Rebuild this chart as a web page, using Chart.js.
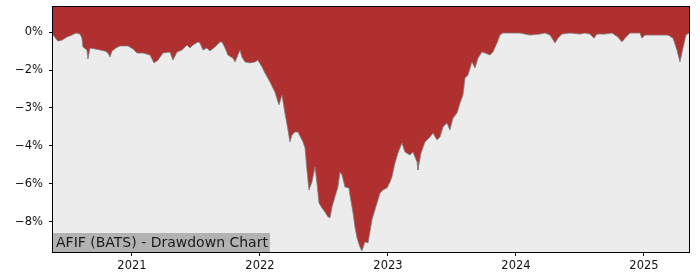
<!DOCTYPE html>
<html>
<head>
<meta charset="utf-8">
<title>AFIF (BATS) - Drawdown Chart</title>
<script src="https://cdn.jsdelivr.net/npm/chart.js@4.4.1/dist/chart.umd.min.js"></script>
<style>
  html, body { margin: 0; padding: 0; background: #fff; }
  canvas { display: block; }
</style>
</head>
<body>
<canvas id="ddChart" width="700" height="280"></canvas>
<script>
// Drawdown data (dates as decimal years, drawdown in %)
const dates = [
  2020.383, 2020.422, 2020.453, 2020.492, 2020.531, 2020.563, 2020.594, 2020.609, 2020.617, 2020.648,
  2020.656, 2020.672, 2020.711, 2020.750, 2020.789, 2020.813, 2020.828, 2020.844, 2020.875, 2020.906,
  2020.969, 2021.008, 2021.039, 2021.086, 2021.141, 2021.172, 2021.203, 2021.242, 2021.297, 2021.320,
  2021.352, 2021.391, 2021.414, 2021.430, 2021.453, 2021.477, 2021.516, 2021.531, 2021.555, 2021.586,
  2021.609, 2021.648, 2021.688, 2021.703, 2021.727, 2021.750, 2021.789, 2021.805, 2021.844, 2021.859,
  2021.883, 2021.922, 2021.961, 2021.984, 2022.016, 2022.039, 2022.078, 2022.117, 2022.148, 2022.172,
  2022.195, 2022.219, 2022.234, 2022.250, 2022.273, 2022.297, 2022.336, 2022.352, 2022.367, 2022.383,
  2022.406, 2022.430, 2022.445, 2022.461, 2022.484, 2022.508, 2022.531, 2022.547, 2022.563, 2022.586,
  2022.609, 2022.625, 2022.641, 2022.664, 2022.695, 2022.703, 2022.727, 2022.742, 2022.758, 2022.781,
  2022.797, 2022.820, 2022.844, 2022.859, 2022.875, 2022.898, 2022.922, 2022.938, 2022.961, 2022.992,
  2023.016, 2023.031, 2023.055, 2023.078, 2023.109, 2023.133, 2023.172, 2023.195, 2023.227, 2023.234,
  2023.258, 2023.289, 2023.328, 2023.352, 2023.383, 2023.406, 2023.430, 2023.461, 2023.484, 2023.508,
  2023.539, 2023.563, 2023.586, 2023.602, 2023.625, 2023.656, 2023.680, 2023.703, 2023.734, 2023.758,
  2023.797, 2023.820, 2023.852, 2023.875, 2023.898, 2023.953, 2024.031, 2024.109, 2024.188, 2024.227,
  2024.266, 2024.305, 2024.328, 2024.359, 2024.422, 2024.500, 2024.539, 2024.578, 2024.609, 2024.633,
  2024.695, 2024.750, 2024.797, 2024.828, 2024.852, 2024.891, 2024.969, 2024.984, 2025.008, 2025.047,
  2025.125, 2025.188, 2025.227, 2025.258, 2025.281, 2025.305, 2025.328, 2025.352
];
const drawdown = [
  -0.12, -0.36, -0.32, -0.20, -0.12, -0.04, -0.08, -0.24, -0.59, -0.71,
  -1.07, -0.63, -0.67, -0.71, -0.75, -0.83, -0.99, -0.75, -0.63, -0.55,
  -0.55, -0.67, -0.83, -0.83, -0.91, -1.22, -1.11, -0.83, -0.79, -1.11,
  -0.79, -0.71, -0.59, -0.51, -0.63, -0.51, -0.39, -0.43, -0.71, -0.63,
  -0.75, -0.59, -0.39, -0.39, -0.63, -0.91, -1.03, -1.18, -0.71, -0.99,
  -1.18, -1.22, -1.18, -1.11, -1.38, -1.62, -1.97, -2.37, -2.88, -2.49,
  -3.20, -3.87, -4.34, -4.07, -3.95, -3.95, -4.34, -4.58, -5.45, -6.24,
  -5.92, -5.33, -5.96, -6.75, -6.95, -7.11, -7.30, -7.34, -6.91, -6.51,
  -6.12, -5.53, -5.65, -6.12, -6.16, -6.44, -7.15, -7.70, -8.13, -8.49,
  -8.65, -8.29, -8.33, -7.90, -7.42, -7.03, -6.63, -6.36, -6.24, -6.16,
  -5.92, -5.72, -5.17, -4.78, -4.38, -4.74, -4.86, -4.74, -5.13, -5.45,
  -4.78, -4.34, -4.15, -3.99, -4.26, -4.15, -3.75, -3.59, -3.87, -3.40,
  -3.20, -2.80, -2.49, -1.82, -1.70, -1.18, -1.42, -1.03, -0.79, -0.83,
  -0.91, -0.79, -0.43, -0.12, -0.04, -0.04, -0.04, -0.12, -0.08, -0.04,
  -0.12, -0.43, -0.24, -0.08, -0.04, -0.08, -0.04, -0.08, -0.24, -0.08,
  -0.08, -0.04, -0.20, -0.39, -0.24, -0.04, -0.04, -0.24, -0.12, -0.12,
  -0.12, -0.12, -0.24, -0.71, -1.18, -0.63, -0.12, -0.04
];
const yearTicks = [2021, 2022, 2023, 2024, 2025];
const yTickValues = [0, -1.5, -3, -4.5, -6, -7.5];
const yTickLabels = ['0%', '\u22122%', '\u22123%', '\u22124%', '\u22126%', '\u22128%'];
const chartTitle = 'AFIF (BATS) - Drawdown Chart';

const FONT = 'DejaVu Sans';

// Plot background, spines and the title box in the bottom-left corner
const framePlugin = {
  id: 'frame',
  beforeDatasetsDraw(chart) {
    const { ctx, chartArea: a } = chart;
    ctx.save();
    ctx.fillStyle = '#ececec';
    ctx.fillRect(a.left, a.top, a.right - a.left, a.bottom - a.top);
    ctx.restore();
  },
  afterDraw(chart) {
    const { ctx, chartArea: a } = chart;
    ctx.save();
    ctx.font = '14px "' + FONT + '"';
    const w = ctx.measureText(chartTitle).width;
    ctx.fillStyle = '#b2b2b2';
    ctx.fillRect(a.left, a.bottom - 19, w + 5, 19);
    ctx.fillStyle = '#1a1a1a';
    ctx.textBaseline = 'alphabetic';
    ctx.fillText(chartTitle, a.left + 3, a.bottom - 5);
    ctx.strokeStyle = '#000';
    ctx.lineWidth = 1;
    ctx.strokeRect(Math.round(a.left) - 0.5, Math.round(a.top) - 0.5,
      Math.round(a.right - a.left) + 1, Math.round(a.bottom - a.top) + 1);
    ctx.restore();
  }
};

const data = {
  datasets: [
    {
      label: 'Drawdown',
      data: dates.map((d, i) => ({ x: d, y: drawdown[i] })),
      borderColor: 'rgba(125, 125, 125, 0.75)',
      borderWidth: 1,
      backgroundColor: '#b03030',
      fill: 'end',
      pointRadius: 0,
      tension: 0,
    },
  ],
};

const config = {
  type: 'line',
  data: data,
  options: {
    responsive: false,
    animation: false,
    layout: { padding: { top: 7, right: 11, left: 0, bottom: 0 } },
    plugins: {
      legend: { display: false },
      tooltip: { enabled: false },
    },
    scales: {
      x: {
        type: 'linear',
        min: 2020.383,
        max: 2025.352,
        afterBuildTicks(axis) {
          axis.ticks = yearTicks.map((v) => ({ value: v }));
        },
        afterFit(axis) {
          axis.height = 28;
          axis.paddingLeft = 0;
          axis.paddingRight = 0;
        },
        ticks: {
          callback: (v) => String(v),
          font: { family: FONT, size: 11.5 },
          color: '#111',
          maxRotation: 0,
          autoSkip: false,
          padding: 3,
        },
        grid: { drawOnChartArea: false, tickLength: 4, color: '#000' },
        border: { color: '#000' },
      },
      y: {
        min: -8.69,
        max: 0.99,
        afterBuildTicks(axis) {
          axis.ticks = yTickValues.map((v) => ({ value: v }));
        },
        afterFit(axis) {
          axis.width = 53;
          axis.paddingTop = 0;
          axis.paddingBottom = 0;
        },
        ticks: {
          callback: (v, i) => yTickLabels[i],
          font: { family: FONT, size: 11.5 },
          color: '#111',
          padding: 6,
        },
        grid: { drawOnChartArea: false, tickLength: 4, color: '#000' },
        border: { color: '#000' },
      },
    },
  },
  plugins: [framePlugin],
};

new Chart(document.getElementById('ddChart'), config);
</script>
</body>
</html>
